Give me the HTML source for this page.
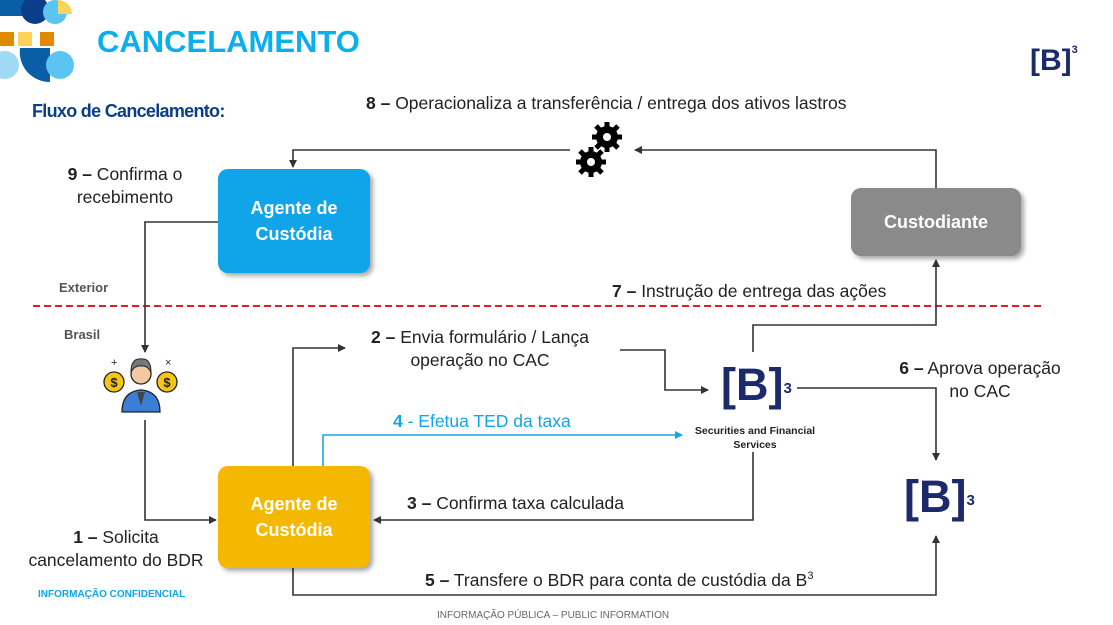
<!DOCTYPE html>
<html><head><meta charset="utf-8"><style>
body{margin:0;width:1113px;height:625px;background:#fff;position:relative;overflow:hidden;font-family:"Liberation Sans",sans-serif;}
.t{position:absolute;color:#222;font-size:17.5px;line-height:23px;white-space:nowrap;}
.c{text-align:center;}
.box{position:absolute;border-radius:10px;color:#fff;font-weight:bold;font-size:18px;line-height:26px;display:flex;align-items:center;justify-content:center;text-align:center;box-shadow:3px 3px 5px rgba(0,0,0,.35);}
b{font-weight:bold}
.b3{position:absolute;font-weight:bold;color:#1c2a6b;}
</style></head><body>
<svg width="1113" height="625" style="position:absolute;left:0;top:0">
<defs><marker id="a" markerWidth="8" markerHeight="8" refX="7" refY="4" orient="auto" markerUnits="userSpaceOnUse"><path d="M0,0 L8,4 L0,8z" fill="#333"/></marker>
<marker id="ab" markerWidth="8" markerHeight="8" refX="7" refY="4" orient="auto" markerUnits="userSpaceOnUse"><path d="M0,0 L8,4 L0,8z" fill="#1aa3e8"/></marker></defs>
<rect x="0" y="0" width="25" height="16" fill="#0a5ea8"/>
<circle cx="35" cy="10" r="14" fill="#0a3d8a"/>
<circle cx="55" cy="12" r="12" fill="#5bc4f1"/>
<path d="M58,0 a14,14 0 0 1 14,14 h-14z" fill="#ffd25a"/>
<rect x="0" y="32" width="14" height="14" fill="#e08a00"/>
<rect x="18" y="32" width="14" height="14" fill="#ffd25a"/>
<rect x="40" y="32" width="14" height="14" fill="#e08a00"/>
<path d="M20,48 h30 v34 a30,30 0 0 1 -30,-34z" fill="#0a5ea8"/>
<circle cx="60" cy="65" r="14" fill="#5bc4f1"/>
<circle cx="5" cy="65" r="14" fill="#9fd9f6"/>
<line x1="33" y1="306" x2="1043" y2="306" stroke="#e02020" stroke-width="2" stroke-dasharray="7,4"/>
<g fill="none" stroke="#333" stroke-width="1.6">
<polyline points="570,150 293,150 293,167" marker-end="url(#a)"/>
<polyline points="936,188 936,150 635,150" marker-end="url(#a)"/>
<polyline points="218,222 145,222 145,352" marker-end="url(#a)"/>
<polyline points="145,420 145,520 216,520" marker-end="url(#a)"/>
<polyline points="293,466 293,348 345,348" marker-end="url(#a)"/>
<polyline points="620,350 665,350 665,390 708,390" marker-end="url(#a)"/>
<polyline points="753,452 753,520 374,520" marker-end="url(#a)"/>
<polyline points="797,388 936,388 936,460" marker-end="url(#a)"/>
<polyline points="753,352 753,325 936,325 936,260" marker-end="url(#a)"/>
<polyline points="293,568 293,595 936,595 936,536" marker-end="url(#a)"/>
</g>
<polyline points="323,466 323,435 682,435" fill="none" stroke="#1aa3e8" stroke-width="1.6" marker-end="url(#ab)"/>
<g fill="#000">
<circle cx="607" cy="137" r="11"/><circle cx="591" cy="162" r="11"/>
<g stroke="#000" stroke-width="5">
<line x1="607" y1="122" x2="607" y2="152"/><line x1="592" y1="137" x2="622" y2="137"/><line x1="596" y1="126" x2="618" y2="148"/><line x1="618" y1="126" x2="596" y2="148"/>
<line x1="591" y1="147" x2="591" y2="177"/><line x1="576" y1="162" x2="606" y2="162"/><line x1="580" y1="151" x2="602" y2="173"/><line x1="602" y1="151" x2="580" y2="173"/>
</g></g>
<circle cx="607" cy="137" r="4" fill="#fff"/><circle cx="591" cy="162" r="4" fill="#fff"/>
<circle cx="114" cy="382" r="10" fill="#f5c518" stroke="#222" stroke-width="1.3"/>
<circle cx="167" cy="382" r="10" fill="#f5c518" stroke="#222" stroke-width="1.3"/>
<text x="114" y="387" font-size="13" font-weight="bold" text-anchor="middle" fill="#222">$</text>
<text x="167" y="387" font-size="13" font-weight="bold" text-anchor="middle" fill="#222">$</text>
<path d="M122,412 q0,-20 18,-22 h2 q18,2 18,22z" fill="#3a7fd5" stroke="#222" stroke-width="1.3"/>
<path d="M137,392 h8 l-4,14z" fill="#444"/>
<circle cx="141" cy="374" r="10" fill="#f3c9a0" stroke="#222" stroke-width="1.3"/>
<path d="M131,372 q0,-14 10,-13 q10,-1 10,13 q-4,-7 -10,-6 q-6,-1 -10,6z" fill="#777" stroke="#222" stroke-width="1"/>
<text x="111" y="366" font-size="11" fill="#222">+</text><text x="165" y="366" font-size="11" fill="#222">×</text>
</svg>
<div style="position:absolute;left:97px;top:24px;font-size:31px;font-weight:bold;color:#0ab0ee;">CANCELAMENTO</div>
<div style="position:absolute;left:32px;top:101px;font-size:18px;font-weight:bold;color:#0a3d8a;letter-spacing:-0.7px;">Fluxo de Cancelamento:</div>
<div class="b3" style="left:1030px;top:44px;font-size:30px;">[B]<sup style="font-size:11px;vertical-align:top">3</sup></div>
<div class="t" style="left:366px;top:92px;"><b>8 –</b> Operacionaliza a transferência / entrega dos ativos lastros</div>
<div class="t c" style="left:45px;top:163px;width:160px;"><b>9 –</b> Confirma o<br>recebimento</div>
<div class="box" style="left:218px;top:169px;width:152px;height:104px;background:#10a4e8;">Agente de<br>Custódia</div>
<div class="box" style="left:851px;top:188px;width:170px;height:68px;background:#8a8a8a;">Custodiante</div>
<div class="box" style="left:218px;top:466px;width:152px;height:102px;background:#f5b800;">Agente de<br>Custódia</div>
<div style="position:absolute;left:59px;top:280px;font-size:13px;font-weight:bold;color:#555;">Exterior</div>
<div style="position:absolute;left:64px;top:327px;font-size:13px;font-weight:bold;color:#555;">Brasil</div>
<div class="t" style="left:612px;top:280px;"><b>7 –</b> Instrução de entrega das ações</div>
<div class="t c" style="left:340px;top:326px;width:280px;"><b>2 –</b> Envia formulário / Lança<br>operação no CAC</div>
<div class="t" style="left:393px;top:410px;color:#10a4e8;"><b>4</b> - Efetua TED da taxa</div>
<div class="t" style="left:407px;top:492px;"><b>3 –</b> Confirma taxa calculada</div>
<div class="t c" style="left:880px;top:357px;width:200px;"><b>6 –</b> Aprova operação<br>no CAC</div>
<div class="t c" style="left:10px;top:526px;width:212px;"><b>1 –</b> Solicita<br>cancelamento do BDR</div>
<div class="t" style="left:425px;top:565px;"><b>5 –</b> Transfere o BDR para conta de custódia da B<sup style="font-size:11px">3</sup></div>
<div class="b3" style="left:721px;top:355px;font-size:45px;line-height:60px;">[B]<sup style="font-size:15px;vertical-align:top;position:relative;top:4px">3</sup></div>
<div style="position:absolute;left:680px;top:424px;width:150px;text-align:center;font-size:10.5px;font-weight:bold;color:#222;line-height:14px;">Securities and Financial Services</div>
<div class="b3" style="left:904px;top:467px;font-size:45px;line-height:60px;">[B]<sup style="font-size:15px;vertical-align:top;position:relative;top:4px">3</sup></div>
<div style="position:absolute;left:38px;top:589px;font-size:10px;font-weight:bold;color:#10a4e8;">INFORMAÇÃO CONFIDENCIAL</div>
<div style="position:absolute;left:437px;top:610px;font-size:10px;color:#666;">INFORMAÇÃO PÚBLICA – PUBLIC INFORMATION</div>
</body></html>
